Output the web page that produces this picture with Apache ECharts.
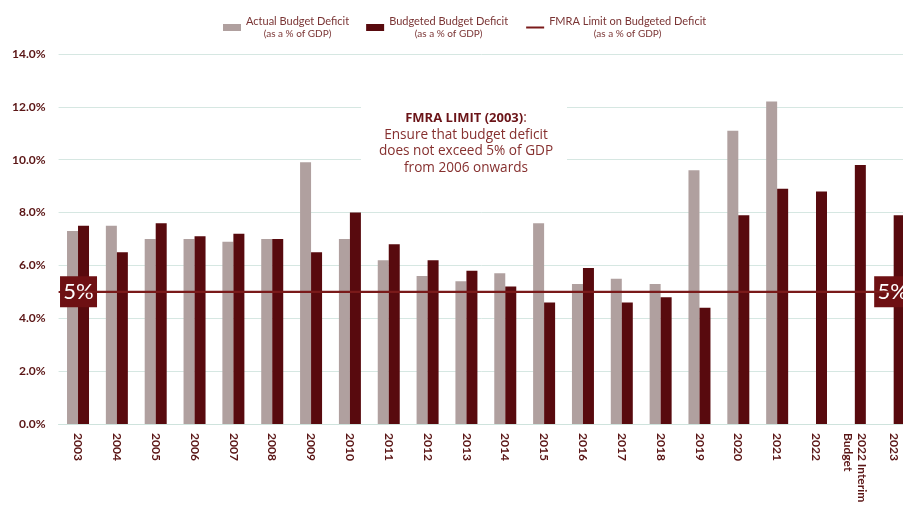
<!DOCTYPE html>
<html><head><meta charset="utf-8">
<script src="https://cdn.jsdelivr.net/npm/echarts@6/dist/echarts.min.js"></script>
<style>html,body{margin:0;padding:0;background:#fff}#c{width:903px;height:508px}</style>
</head><body><div id="c"></div>
<script>
const categories = ['2003','2004','2005','2006','2007','2008','2009','2010','2011','2012','2013','2014','2015','2016','2017','2018','2019','2020','2021','2022','2022 Interim\nBudget','2023'];
const actualDeficit = [7.3,7.5,7.0,7.0,6.9,7.0,9.9,7.0,6.2,5.6,5.4,5.7,7.6,5.3,5.5,5.3,9.6,11.1,12.2,null,null,null];
const budgetedDeficit = [7.5,6.5,7.6,7.1,7.2,7.0,6.5,8.0,6.8,6.2,5.8,5.2,4.6,5.9,4.6,4.8,4.4,7.9,8.9,8.8,9.8,7.9];
const fmraLimit = 5;
const yTicks = [0,2,4,6,8,10,12,14];

const chart = echarts.init(document.getElementById('c'));
const F = 'Lato, "Open Sans", sans-serif';
const F2 = '"Open Sans", Lato, sans-serif';
const sub = '(as a % of GDP)';
chart.setOption({
  animation:false,
  textStyle:{fontFamily:F},
  legend:{
    top:11, left:218, itemGap:17, itemWidth:18, itemHeight:7,
    data:[
      {name:'Actual Budget Deficit', icon:'rect'},
      {name:'Budgeted Budget Deficit', icon:'rect'},
      {name:'FMRA Limit on Budgeted Deficit', itemStyle:{opacity:0}}
    ],
    formatter: n => '{a|'+n+'}\n{b|'+sub+'}',
    textStyle:{color:'#7a3434', rich:{
      a:{fontSize:11, color:'#7a3434', align:'center', fontFamily:F, lineHeight:13},
      b:{fontSize:10, color:'#7a3434', align:'center', fontFamily:F, lineHeight:12}
    }}
  },
  grid:{left:58.6, width:854.5, top:54, bottom:84, containLabel:false, outerBoundsMode:'none'},
  xAxis:{
    type:'category', data:categories,
    axisLine:{lineStyle:{color:'#cfe3dd'}}, axisTick:{show:false},
    axisLabel:{rotate:-90, interval:0, color:'#5a1515', fontWeight:'bold', fontSize:12, margin:9, fontFamily:F, lineHeight:14}
  },
  yAxis:{
    type:'value', min:0, max:14, interval:2,
    axisLabel:{formatter:v=>v.toFixed(1)+'%', color:'#5a1515', fontWeight:'bold', fontSize:12, margin:13, fontFamily:F},
    splitLine:{lineStyle:{color:'#d6e7e2', width:1}},
    axisLine:{show:false}, axisTick:{show:false}
  },
  series:[
    {name:'Actual Budget Deficit', type:'bar', data:actualDeficit, barWidth:11, barGap:'0%',
     itemStyle:{color:'#b0a09f'}},
    {name:'Budgeted Budget Deficit', type:'bar', data:budgetedDeficit, barWidth:11, barGap:'0%',
     itemStyle:{color:'#580a0e'}},
    {name:'FMRA Limit on Budgeted Deficit', type:'line', data:categories.map(()=>fmraLimit),
     symbol:'none', lineStyle:{color:'#7a1a1a', width:2}, itemStyle:{color:'#7a1a1a'}, z:5,
     markLine:{silent:true, symbol:'none', data:[{yAxis:fmraLimit}], lineStyle:{color:'#7a1a1a', width:2, type:'solid'}, label:{show:false}},
     markPoint:{
       symbol:'rect', symbolSize:[37,31], itemStyle:{color:'#6e1013'},
       label:{show:true, color:'#fff', fontSize:22, fontFamily:F, formatter:'5%'},
       data:[{coord:[categories[0], fmraLimit], symbolOffset:[0.5,0]},{coord:[categories[categories.length-1], fmraLimit], symbolOffset:[-1,0]}]
     }}
  ],
  graphic:[
    {type:'rect', left:361, top:103, shape:{width:206, height:75}, style:{fill:'#fff'}, z:10},
    {type:'text', x:466, y:110, z:11,
     style:{
       text:'{h|FMRA LIMIT (2003)}{p|:}\n{p|Ensure that budget deficit}\n{p|does not exceed 5% of GDP}\n{p|from 2006 onwards}',
       align:'center', verticalAlign:'top', fill:'#86302f',
       rich:{
         h:{fontSize:13, fontWeight:'bold', fill:'#6b1418', fontFamily:F2, lineHeight:16.5, align:'center'},
         p:{fontSize:13.6, fill:'#86302f', fontFamily:F2, lineHeight:16.5, align:'center'}
       }
     }}
  ]
});
</script></body></html>
